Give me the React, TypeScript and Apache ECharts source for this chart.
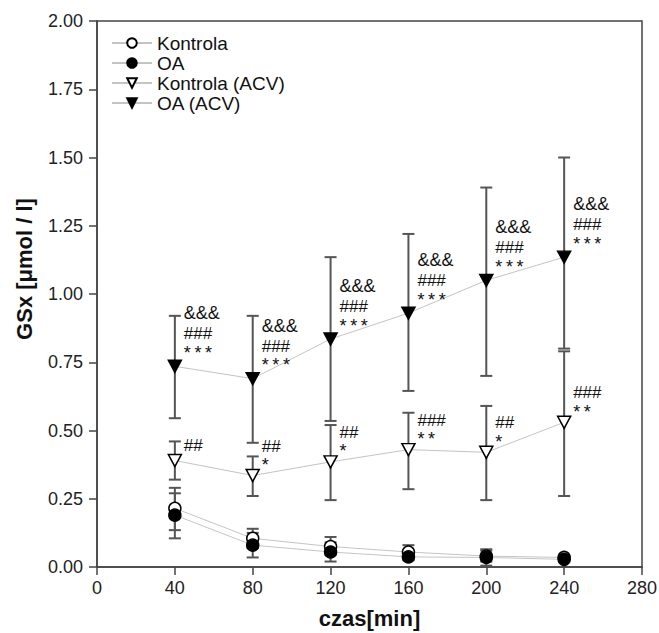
import React, { useEffect, useRef } from "react";
import * as echarts from "echarts";

const times = [40, 80, 120, 160, 200, 240];

const kontrola = [0.215, 0.105, 0.075, 0.055, 0.04, 0.035];
const kontrolaLow = [0.135, 0.07, 0.045, 0.035, 0.02, 0.03];
const kontrolaHigh = [0.29, 0.14, 0.11, 0.08, 0.06, 0.04];

const oa = [0.19, 0.08, 0.055, 0.037, 0.035, 0.028];
const oaLow = [0.105, 0.035, 0.02, 0.025, 0.005, 0.02];
const oaHigh = [0.27, 0.125, 0.09, 0.05, 0.065, 0.035];

const kontrolaAcv = [0.39, 0.335, 0.385, 0.43, 0.42, 0.53];
const kontrolaAcvLow = [0.32, 0.26, 0.245, 0.285, 0.245, 0.26];
const kontrolaAcvHigh = [0.46, 0.405, 0.52, 0.565, 0.59, 0.79];

const oaAcv = [0.735, 0.69, 0.835, 0.93, 1.05, 1.135];
const oaAcvLow = [0.545, 0.455, 0.535, 0.645, 0.70, 0.80];
const oaAcvHigh = [0.92, 0.92, 1.135, 1.22, 1.39, 1.50];

const oaAcvMarks = ["&&&|###|***", "&&&|###|***", "&&&|###|***", "&&&|###|***", "&&&|###|***", "&&&|###|***"];
const kontrolaAcvMarks = ["##", "##|*", "##|*", "###|**", "##|*", "###|**"];

const seriesNames = ["Kontrola", "OA", "Kontrola (ACV)", "OA (ACV)"];
const yTicks = [0, 0.25, 0.5, 0.75, 1, 1.25, 1.5, 1.75, 2];
const xTicks = [0, 40, 80, 120, 160, 200, 240, 280];

const FONT = "Liberation Sans, Arial, sans-serif";
const DOWN_TRI = "path://M0,0 L10,0 L5,9 Z";

function richText(mark: string) {
  return mark
    .split("|")
    .map((p) => {
      if (p.startsWith("&")) return `{a|${p}}`;
      if (p.startsWith("#")) return `{h|${p}}`;
      return `{s|${p.split("").join("\u2009")}}`;
    })
    .join("\n");
}

const rich = {
  a: { fontSize: 18, lineHeight: 22, color: "#111", fontFamily: FONT },
  h: { fontSize: 17, lineHeight: 19, color: "#111", fontFamily: FONT },
  s: { fontSize: 18, lineHeight: 14, color: "#111", fontFamily: FONT, padding: [5, 0, 0, 0] },
};

function errorSeries(low: number[], high: number[]) {
  return {
    type: "custom",
    z: 1,
    silent: true,
    data: times.map((t, i) => [t, low[i], high[i]]),
    renderItem: (params: any, api: any) => {
      const lo = api.coord([api.value(0), api.value(1)]);
      const hi = api.coord([api.value(0), api.value(2)]);
      const hw = 6;
      const style = { stroke: "#555", lineWidth: 2 };
      return {
        type: "group",
        children: [
          { type: "line", shape: { x1: lo[0], y1: lo[1], x2: hi[0], y2: hi[1] }, style },
          { type: "line", shape: { x1: lo[0] - hw, y1: lo[1], x2: lo[0] + hw, y2: lo[1] }, style },
          { type: "line", shape: { x1: hi[0] - hw, y1: hi[1], x2: hi[0] + hw, y2: hi[1] }, style },
        ],
      };
    },
  };
}

function lineSeries(name: string, values: number[], symbol: string, size: any, fill: string, marks?: string[], offset?: number[]) {
  return {
    name,
    type: "line",
    z: 3,
    data: times.map((t, i) => [t, values[i]]),
    symbol,
    symbolSize: size,
    showAllSymbol: true,
    lineStyle: { color: "#c4c4c4", width: 1 },
    itemStyle: { color: fill, borderColor: "#000", borderWidth: 1.5, opacity: 1 },
    label: marks
      ? {
          show: true,
          position: "inside",
          align: "left",
          verticalAlign: "bottom",
          offset,
          formatter: (p: any) => richText(marks[p.dataIndex]),
          rich,
        }
      : { show: false },
    emphasis: { disabled: true },
  };
}

export default function App() {
  const ref = useRef<HTMLDivElement>(null);
  useEffect(() => {
    if (!ref.current) return;
    const chart = echarts.init(ref.current, null, { renderer: "svg" });
    chart.setOption({
      animation: false,
      backgroundColor: "#fff",
      textStyle: { fontFamily: FONT },
      grid: {
        left: 97,
        right: 17,
        top: 21,
        bottom: 66,
        containLabel: false,
        outerBoundsMode: "none",
        show: true,
        borderColor: "#444",
        borderWidth: 1.5,
      },
      legend: {
        data: seriesNames,
        orient: "vertical",
        left: 106,
        top: 28,
        itemWidth: 40,
        itemHeight: 12,
        itemGap: 0,
        textStyle: { fontSize: 19, lineHeight: 20, color: "#111", fontFamily: FONT },
      },
      xAxis: {
        type: "value",
        min: xTicks[0],
        max: xTicks[xTicks.length - 1],
        interval: 40,
        name: "czas[min]",
        nameLocation: "middle",
        nameGap: 40,
        nameTextStyle: { fontSize: 22, fontWeight: "bold", color: "#111", fontFamily: FONT },
        axisLine: { show: true, lineStyle: { color: "#444", width: 1.5 } },
        axisTick: { show: true, length: 8, lineStyle: { color: "#444", width: 1.5 } },
        axisLabel: { fontSize: 18, color: "#222", margin: 12, fontFamily: FONT },
        splitLine: { show: false },
      },
      yAxis: {
        type: "value",
        min: yTicks[0],
        max: yTicks[yTicks.length - 1],
        interval: 0.25,
        name: "GSx [μmol / l]",
        nameLocation: "middle",
        nameGap: 62,
        nameRotate: 90,
        nameTextStyle: { fontSize: 22, fontWeight: "bold", color: "#111", fontFamily: FONT, padding: [0, 0, 0, 50] },
        axisLine: { show: true, lineStyle: { color: "#444", width: 1.5 } },
        axisTick: { show: true, length: 8, lineStyle: { color: "#444", width: 1.5 } },
        axisLabel: { fontSize: 18, color: "#222", margin: 14, fontFamily: FONT, formatter: (v: number) => v.toFixed(2) },
        splitLine: { show: false },
      },
      series: [
        errorSeries(kontrolaLow, kontrolaHigh),
        errorSeries(oaLow, oaHigh),
        errorSeries(kontrolaAcvLow, kontrolaAcvHigh),
        errorSeries(oaAcvLow, oaAcvHigh),
        lineSeries(seriesNames[0], kontrola, "circle", 12, "#fff"),
        lineSeries(seriesNames[1], oa, "circle", 12, "#000"),
        lineSeries(seriesNames[2], kontrolaAcv, DOWN_TRI, [13, 12], "#fff", kontrolaAcvMarks, [9, -6]),
        lineSeries(seriesNames[3], oaAcv, DOWN_TRI, [13, 12], "#000", oaAcvMarks, [9, -9]),
      ],
    });
    return () => chart.dispose();
  }, []);
  return <div ref={ref} style={{ position: "fixed", left: 0, top: 0, width: 659, height: 633 }} />;
}
